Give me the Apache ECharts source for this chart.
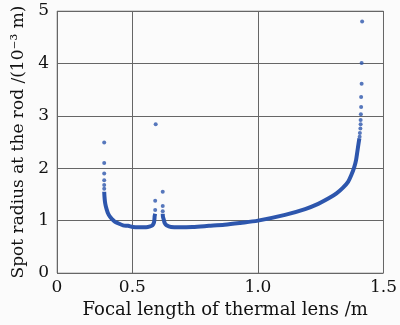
<!DOCTYPE html>
<html><head><meta charset="utf-8">
<script src="https://cdn.jsdelivr.net/npm/echarts@6/dist/echarts.min.js"></script>
<style>html,body{margin:0;padding:0;background:#fbfbfb}#c{width:400px;height:325px}</style>
</head><body><div id="c"></div>
<script>
// tick positions and their printed labels (the reference axis labels its left edge "0")
const xTickValues = [0.2, 0.5, 1.0, 1.5];
const xTickLabels = ['0', '0.5', '1.0', '1.5'];
// sparse isolated points (x focal length /m, y spot radius /1e-3 m)
const sparsePoints = [
  [0.388,2.49],[0.388,2.10],[0.388,1.90],[0.388,1.77],[0.388,1.68],[0.388,1.61],
  [0.593,2.84],[0.591,1.38],[0.591,1.20],
  [0.621,1.55],[0.621,1.28],[0.621,1.18],
  [1.415,4.80],[1.413,4.01],[1.413,3.61],[1.411,3.36],[1.411,3.17],[1.410,3.03],
  [1.409,2.92],[1.409,2.84],[1.408,2.76],[1.406,2.67],[1.405,2.60]
];
// dense branch left of the gap
const branchLeft = [
  [0.388,1.55],[0.389,1.46],[0.391,1.36],[0.394,1.28],[0.398,1.21],[0.403,1.14],
  [0.410,1.08],[0.419,1.03],[0.430,0.98],[0.443,0.95],[0.463,0.91],[0.483,0.90],
  [0.502,0.88],[0.529,0.875],[0.555,0.875],[0.571,0.89],[0.580,0.91],[0.586,0.96],
  [0.588,1.03],[0.589,1.09],[0.591,1.13]
];
// dense branch right of the gap
const branchRight = [
  [0.621,1.13],[0.622,1.07],[0.625,1.02],[0.629,0.95],[0.636,0.91],[0.654,0.88],
  [0.687,0.875],[0.739,0.88],[0.805,0.90],[0.867,0.92],[0.93,0.955],[1.0,1.0],
  [1.108,1.11],[1.188,1.22],[1.24,1.32],[1.28,1.42],[1.313,1.52],[1.339,1.63],
  [1.359,1.74],[1.372,1.87],[1.383,2.01],[1.391,2.16],[1.396,2.32],[1.401,2.48],[1.404,2.57]
];
const blue = '#2d56ad';
const font = 'DejaVu Serif';
const chart = echarts.init(document.getElementById('c'), null, {renderer:'canvas'});
chart.setOption({
  backgroundColor: '#fbfbfb',
  animation: false,
  grid: {left: 57, right: 14, top: 11, bottom: 52, show: true, borderColor: '#aaa', borderWidth: 1},
  xAxis: {
    type: 'value', min: 0.2, max: 1.5,
    name: 'Focal length of thermal lens /m', nameLocation: 'middle', nameGap: 26,
    nameTextStyle: {fontFamily: font, fontSize: 18, color: '#111', padding: [0, 0, 0, 10]},
    axisLine: {show: false},
    axisTick: {show: false, customValues: xTickValues},
    axisLabel: {customValues: xTickValues, fontFamily: font, fontSize: 17, color: '#111', margin: 6,
      formatter: v => xTickLabels[xTickValues.findIndex(t => Math.abs(t - v) < 1e-6)]},
    splitLine: {show: true, lineStyle: {color: '#666', width: 1}}
  },
  yAxis: {
    type: 'value', min: 0, max: 5, interval: 1,
    name: 'Spot radius at the rod /(10⁻³ m)', nameLocation: 'middle', nameGap: 30,
    nameTextStyle: {fontFamily: font, fontSize: 17, color: '#111'},
    axisLine: {show: false}, axisTick: {show: false},
    axisLabel: {fontFamily: font, fontSize: 17, color: '#111', margin: 8},
    splitLine: {show: true, lineStyle: {color: '#666', width: 1}}
  },
  series: [
    {type: 'line', data: branchLeft, smooth: 0.3, showSymbol: false, lineStyle: {color: blue, width: 4}},
    {type: 'line', data: branchRight, smooth: 0.3, showSymbol: false, lineStyle: {color: blue, width: 4}},
    {type: 'scatter', data: sparsePoints, symbolSize: 4, itemStyle: {color: blue}}
  ]
});
</script></body></html>
